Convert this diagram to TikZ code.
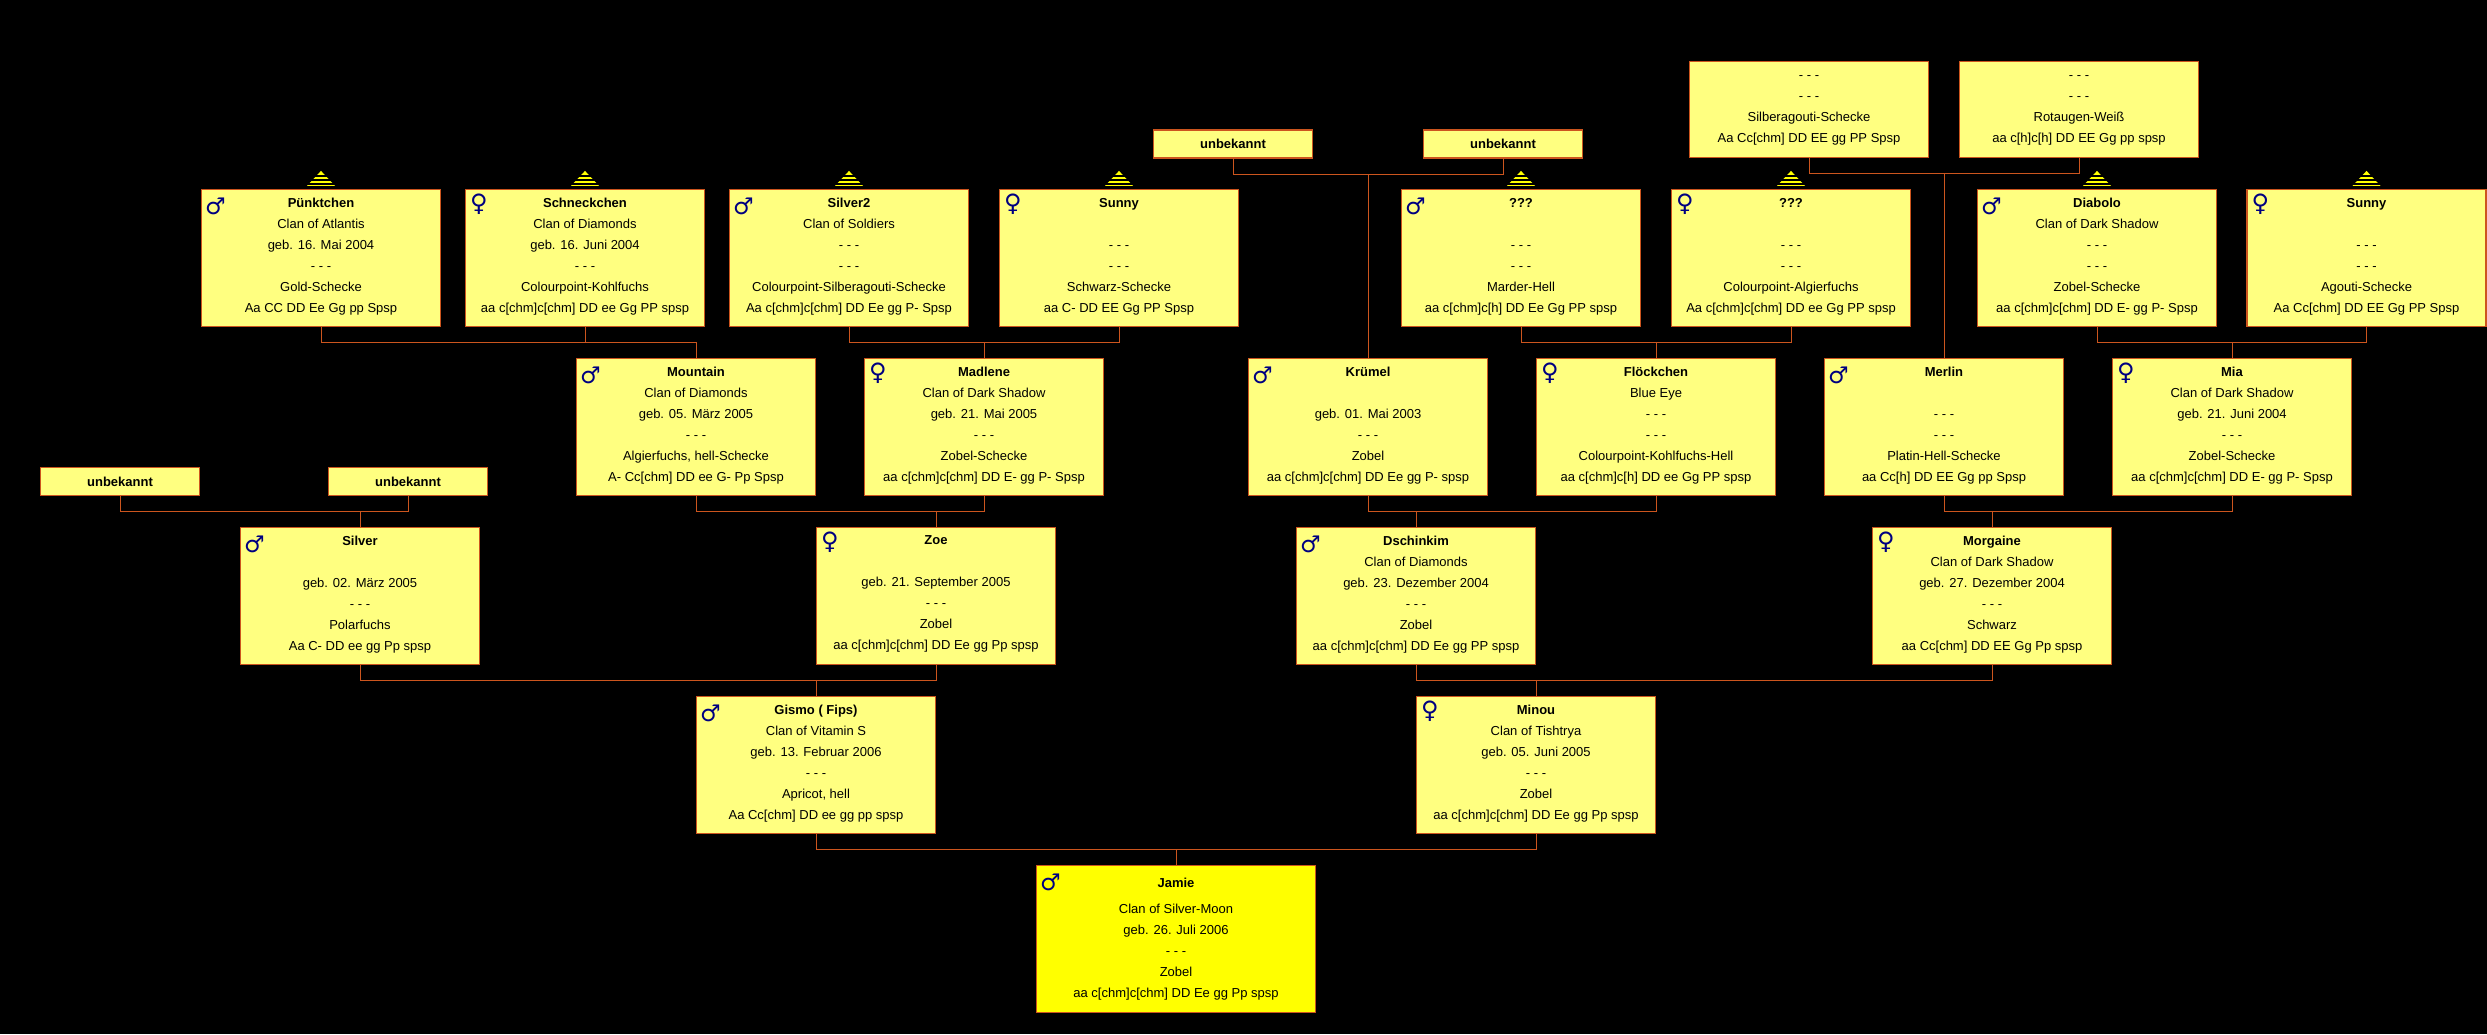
\documentclass[tikz,border=0pt]{standalone}
\usepackage{fontspec}
\usepackage{xcolor}
\usetikzlibrary{calc}
\setmainfont{Liberation Sans}
\newfontfamily\symfont{DejaVu Sans}
\definecolor{boxyellow}{RGB}{255, 255, 128}
\definecolor{puryellow}{RGB}{255, 255, 0}
\definecolor{linkorange}{RGB}{204, 85, 30}
\definecolor{symblue}{RGB}{0, 0, 128}

\tikzset{
    person/.style={draw=linkorange, line width=1.2pt, fill=boxyellow, align=center, inner sep=0pt,
        minimum width=239pt, minimum height=137pt, text depth=6pt, font=\fontsize{13}{21}\selectfont},
    unknownbox/.style={person, minimum height=96pt, text depth=0pt},
    namebox/.style={person, minimum width=159pt, minimum height=28pt, text depth=0pt, font=\fontsize{13}{21}\selectfont\bfseries},
    kitten/.style={person, fill=puryellow, minimum width=279pt, minimum height=147pt, text depth=3pt},
    link/.style={draw=linkorange, line width=1pt},
    malesym/.style={symblue, inner sep=0pt, text depth=0pt, font=\symfont\fontsize{23}{23}\selectfont},
    femalesym/.style={symblue, inner sep=0pt, text depth=0pt, font=\symfont\fontsize{24}{24}\selectfont},
    ancestors/.pic={
        \fill[puryellow] (-14,-3) -- (14,-3) -- (0,-18) -- cycle;
        \foreach \y in {-5,-9,-13} \draw[black, line width=1.3pt] (-15,\y) -- (15,\y);
    }
}

\begin{document}
\begin{tikzpicture}[x=1pt, y=-1pt]
        \fill[black] (0,0) rectangle (2487,1034);
        \useasboundingbox (0,0) rectangle (2487,1034);

        % Top row without pedigree
        \node[unknownbox] (silberagouti) at (1809,109.5) {- - -\\- - -\\Silberagouti-Schecke\\Aa Cc[chm] DD EE gg PP Spsp};
        \node[unknownbox] (rotaugen) at (2079,109.5) {- - -\\- - -\\Rotaugen-Weiß\\aa c[h]c[h] DD EE Gg pp spsp};
        \node[namebox] (unbekannta) at (1233,144) {unbekannt};
        \node[namebox] (unbekanntb) at (1503,144) {unbekannt};

        % Row 1
        \node[person] (puenktchen) at (321,258) {\textbf{Pünktchen}\\Clan of Atlantis\\geb. 16. Mai 2004\\- - -\\Gold-Schecke\\Aa CC DD Ee Gg pp Spsp};
        \node[person] (schneckchen) at (585,258) {\textbf{Schneckchen}\\Clan of Diamonds\\geb. 16. Juni 2004\\- - -\\Colourpoint-Kohlfuchs\\aa c[chm]c[chm] DD ee Gg PP spsp};
        \node[person] (silverzwei) at (849,258) {\textbf{Silver2}\\Clan of Soldiers\\- - -\\- - -\\Colourpoint-Silberagouti-Schecke\\Aa c[chm]c[chm] DD Ee gg P- Spsp};
        \node[person] (sunnya) at (1119,258) {\textbf{Sunny}\\ \\- - -\\- - -\\Schwarz-Schecke\\aa C- DD EE Gg PP Spsp};
        \node[person] (marder) at (1521,258) {\textbf{???}\\ \\- - -\\- - -\\Marder-Hell\\aa c[chm]c[h] DD Ee Gg PP spsp};
        \node[person] (algier) at (1791,258) {\textbf{???}\\ \\- - -\\- - -\\Colourpoint-Algierfuchs\\Aa c[chm]c[chm] DD ee Gg PP spsp};
        \node[person] (diabolo) at (2097,258) {\textbf{Diabolo}\\Clan of Dark Shadow\\- - -\\- - -\\Zobel-Schecke\\aa c[chm]c[chm] DD E- gg P- Spsp};
        \node[person] (sunnyb) at (2366.5,258) {\textbf{Sunny}\\ \\- - -\\- - -\\Agouti-Schecke\\Aa Cc[chm] DD EE Gg PP Spsp};

        % Row 2
        \node[person] (mountain) at (696,427) {\textbf{Mountain}\\Clan of Diamonds\\geb. 05. März 2005\\- - -\\Algierfuchs, hell-Schecke\\A- Cc[chm] DD ee G- Pp Spsp};
        \node[person] (madlene) at (984,427) {\textbf{Madlene}\\Clan of Dark Shadow\\geb. 21. Mai 2005\\- - -\\Zobel-Schecke\\aa c[chm]c[chm] DD E- gg P- Spsp};
        \node[person] (kruemel) at (1368,427) {\textbf{Krümel}\\ \\geb. 01. Mai 2003\\- - -\\Zobel\\aa c[chm]c[chm] DD Ee gg P- spsp};
        \node[person] (floeckchen) at (1656,427) {\textbf{Flöckchen}\\Blue Eye\\- - -\\- - -\\Colourpoint-Kohlfuchs-Hell\\aa c[chm]c[h] DD ee Gg PP spsp};
        \node[person] (merlin) at (1944,427) {\textbf{Merlin}\\ \\- - -\\- - -\\Platin-Hell-Schecke\\aa Cc[h] DD EE Gg pp Spsp};
        \node[person] (mia) at (2232,427) {\textbf{Mia}\\Clan of Dark Shadow\\geb. 21. Juni 2004\\- - -\\Zobel-Schecke\\aa c[chm]c[chm] DD E- gg P- Spsp};
        \node[namebox] (unbekanntc) at (120,481.5) {unbekannt};
        \node[namebox] (unbekanntd) at (408,481.5) {unbekannt};

        % Row 3
        \node[person] (silver) at (360,596) {\textbf{Silver}\\ \\geb. 02. März 2005\\- - -\\Polarfuchs\\Aa C- DD ee gg Pp spsp};
        \node[person] (zoe) at (936,596) {\textbf{Zoe}\\ \\geb. 21. September 2005\\- - -\\Zobel\\aa c[chm]c[chm] DD Ee gg Pp spsp};
        \node[person] (dschinkim) at (1416,596) {\textbf{Dschinkim}\\Clan of Diamonds\\geb. 23. Dezember 2004\\- - -\\Zobel\\aa c[chm]c[chm] DD Ee gg PP spsp};
        \node[person] (morgaine) at (1992,596) {\textbf{Morgaine}\\Clan of Dark Shadow\\geb. 27. Dezember 2004\\- - -\\Schwarz\\aa Cc[chm] DD EE Gg Pp spsp};

        % Row 4
        \node[person] (gismo) at (816,765) {\textbf{Gismo ( Fips)}\\Clan of Vitamin S\\geb. 13. Februar 2006\\- - -\\Apricot, hell\\Aa Cc[chm] DD ee gg pp spsp};
        \node[person] (minou) at (1536,765) {\textbf{Minou}\\Clan of Tishtrya\\geb. 05. Juni 2005\\- - -\\Zobel\\aa c[chm]c[chm] DD Ee gg Pp spsp};

        % Kitten
        \node[kitten] (jamie) at (1176,939) {\textbf{Jamie}\\[5pt]Clan of Silver-Moon\\geb. 26. Juli 2006\\- - -\\Zobel\\aa c[chm]c[chm] DD Ee gg Pp spsp};

        % Connectors
        \foreach \pa/\pb/\kid in {puenktchen/schneckchen/mountain, silverzwei/sunnya/madlene,
                unbekannta/unbekanntb/kruemel, marder/algier/floeckchen,
                silberagouti/rotaugen/merlin, diabolo/sunnyb/mia,
                unbekanntc/unbekanntd/silver, mountain/madlene/zoe,
                kruemel/floeckchen/dschinkim, merlin/mia/morgaine,
                silver/zoe/gismo, dschinkim/morgaine/minou, gismo/minou/jamie} {
            \coordinate (bar) at ($(\pa.south)+(0,15.5)$);
            \draw[link] (\pa.south) -- (bar) -- (bar -| \kid.north) -- (\kid.north);
            \draw[link] (\pb.south) |- (bar);
        }

        % Pedigree markers
        \foreach \n in {puenktchen,schneckchen,silverzwei,sunnya,marder,algier,diabolo,sunnyb}
            \pic at (\n.north) {ancestors};

        % Symbols
        \foreach \n in {puenktchen,silverzwei,marder,diabolo,mountain,kruemel,merlin,silver,dschinkim,gismo,jamie}
            \node[malesym] (\n-sym) at ($(\n.north west)+(14.5,17)$) {♂};
        \foreach \n in {schneckchen,sunnya,algier,sunnyb,madlene,floeckchen,mia,zoe,morgaine,minou}
            \node[femalesym] (\n-sym) at ($(\n.north west)+(14,14)$) {♀};
\end{tikzpicture}
\end{document}
